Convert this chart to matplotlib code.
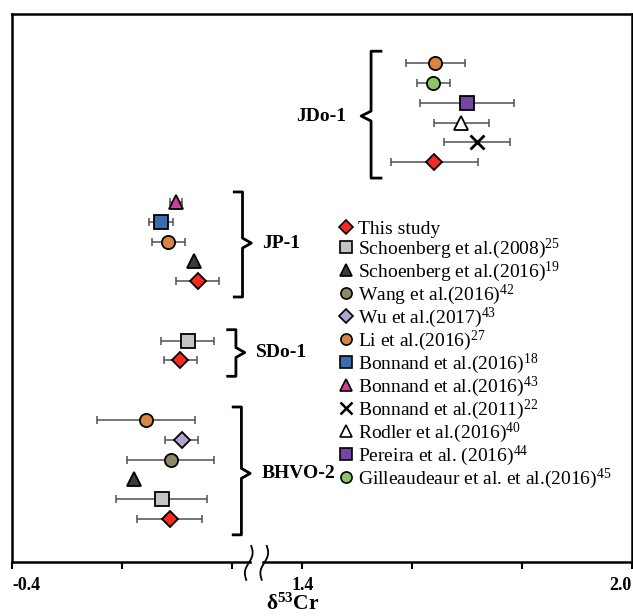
import numpy as np
import matplotlib.pyplot as plt
from matplotlib.lines import Line2D

plt.rcParams["font.family"] = ["Liberation Serif", "DejaVu Serif"]
plt.rcParams["mathtext.fontset"] = "custom"
plt.rcParams["mathtext.rm"] = "Liberation Serif"
plt.rcParams["mathtext.it"] = "Liberation Serif:italic"
plt.rcParams["mathtext.bf"] = "Liberation Serif:bold"

# data sources: legend label, marker, face colour
src_keys = ["this", "scho08", "scho16", "wang16", "wu17", "li16",
            "bonn16a", "bonn16b", "bonn11", "rodl16", "pere16", "gill16"]
src_labels = ["This study", "Schoenberg et al.(2008)$^{25}$",
              "Schoenberg et al.(2016)$^{19}$", "Wang et al.(2016)$^{42}$",
              "Wu et al.(2017)$^{43}$", "Li et al.(2016)$^{27}$",
              "Bonnand et al.(2016)$^{18}$", "Bonnand et al.(2016)$^{43}$",
              "Bonnand et al.(2011)$^{22}$", "Rodler et al.(2016)$^{40}$",
              "Pereira et al. (2016)$^{44}$",
              "Gilleaudeaur et al. et al.(2016)$^{45}$"]
src_markers = ["D", "s", "^", "o", "D", "o", "s", "^", "x", "^", "s", "o"]
src_colors = ["#f52a22", "#c4c4c4", "#3c3c3c", "#8c8a62", "#b3a3d3", "#d9843f",
              "#3b6cae", "#cc3f9c", "black", "white", "#7446a4", "#8cc46a"]

# sample groups
groups = ["JDo-1", "JP-1", "SDo-1", "BHVO-2"]

jdo1_src = ["li16", "gill16", "pere16", "rodl16", "bonn11", "this"]
jdo1_val = [1.642, 1.638, 1.700, 1.689, 1.718, 1.640]
jdo1_err = [0.054, 0.030, 0.085, 0.050, 0.060, 0.079]
jdo1_row = [0, 1, 2, 3, 4, 5]

jp1_src = ["bonn16b", "bonn16a", "li16", "scho16", "this"]
jp1_val = [-0.102, -0.129, -0.115, -0.069, -0.062]
jp1_err = [0.011, 0.022, 0.030, 0.0, 0.040]
jp1_row = [7, 8, 9, 10, 11]

sdo1_src = ["scho08", "this"]
sdo1_val = [-0.080, -0.093]
sdo1_err = [0.048, 0.030]
sdo1_row = [14, 15]

bhvo2_src = ["li16", "wu17", "wang16", "scho16", "scho08", "this"]
bhvo2_val = [-0.156, -0.091, -0.111, -0.178, -0.127, -0.113]
bhvo2_err = [0.090, 0.030, 0.079, 0.0, 0.083, 0.059]
bhvo2_row = [18, 19, 20, 21, 22, 23]

# bracket extents (rows) and x of the bracket spine
br_top = [-0.6, 6.5, 13.45, 17.35]
br_bot = [5.8, 11.8, 15.8, 23.8]
br_mid = [2.67, 9.08, 14.6, 20.7]
br_x = [1.525, 0.020, 0.008, 0.018]

# broken x axis: squeeze the empty range between L and R
L, R, EPS = 0.05, 1.322, 0.001


def fwd(x):
    x = np.asarray(x, float)
    return np.where(x <= L, x, np.where(x >= R, x - (R - L) * (1 - EPS),
                                        L + (x - L) * EPS))


def inv(y):
    y = np.asarray(y, float)
    Lr = L + (R - L) * EPS
    return np.where(y <= L, y, np.where(y >= Lr, y + (R - L) * (1 - EPS),
                                        L + (y - L) / EPS))


fig = plt.figure(figsize=(6.33, 6.16), dpi=100)
ax = fig.add_axes([0.019, 0.088, 0.979, 0.889])
ax.set_xscale("function", functions=(fwd, inv))
ax.set_xlim(-0.4, 2.0)
ax.set_ylim(25.16, -2.47)

style = {k: (m, c) for k, m, c in zip(src_keys, src_markers, src_colors)}


def draw(srcs, vals, errs, rows):
    for s, v, e, r in zip(srcs, vals, errs, rows):
        m, c = style[s]
        if e > 0:
            ax.errorbar(v, r, xerr=e, fmt="none", ecolor="#505050",
                        elinewidth=1.1, capsize=3, capthick=1.1, zorder=2)
        if m == "x":
            ax.plot(v, r, marker="x", color="black", ms=10, mew=2, zorder=3)
        else:
            ms = 8.5 if m == "D" else 9.5
            ax.plot(v, r, marker=m, mfc=c, mec="black", mew=1.3, ms=ms,
                    linestyle="none", zorder=3)


draw(jdo1_src, jdo1_val, jdo1_err, jdo1_row)
draw(jp1_src, jp1_val, jp1_err, jp1_row)
draw(sdo1_src, sdo1_val, sdo1_err, sdo1_row)
draw(bhvo2_src, bhvo2_val, bhvo2_err, bhvo2_row)

# brackets
for i, g in enumerate(groups):
    x, t, b, m = br_x[i], br_top[i], br_bot[i], br_mid[i]
    if i == 0:
        hook, tip = x + 0.018, x - 0.018
    else:
        hook, tip = x - 0.015, x + 0.016
    ax.plot([hook, x, x, tip, x, x, hook], [t, t, m - 0.25, m, m + 0.25, b, b],
            color="black", lw=2, solid_joinstyle="round", zorder=3)
    if i == 0:
        ax.annotate(g, (tip, m), xytext=(-11, 0), textcoords="offset points",
                    ha="right", va="center", fontsize=14, fontweight="bold")
    else:
        ax.annotate(g, (tip, m), xytext=(8, 0), textcoords="offset points",
                    ha="left", va="center", fontsize=14, fontweight="bold")

# axes styling
for sp in ax.spines.values():
    sp.set_linewidth(1.8)
ax.set_yticks([])
ax.set_xticks([-0.4, -0.2, 0.0, 1.4, 1.6, 1.8, 2.0],
              labels=["-0.4", "", "", "1.4", "", "", "2.0"])
ax.minorticks_off()
ax.tick_params(axis="x", direction="out", length=5, width=1.5, pad=6,
               labelsize=13)
for lab in ax.get_xticklabels():
    lab.set_fontweight("bold")
labs = ax.get_xticklabels()
labs[0].set_ha("left")
labs[-1].set_ha("right")
ax.set_xlabel(r"δ$^{\mathbf{53}}$Cr", fontsize=15.5, fontweight="bold")
ax.xaxis.set_label_coords(0.453, -0.058)

# break marks on the bottom axis
t = np.linspace(0, 1, 50)
yy = 0.029 - 0.062 * t
for x0 in (0.382, 0.407):
    xx = x0 + (5 * (0.5 - t) + 2.5 * np.sin(2 * np.pi * t)) / 620
    ax.plot(xx, yy, color="black", lw=1.3, transform=ax.transAxes,
            clip_on=False, zorder=6)
ax.fill_betweenx(np.linspace(-0.01, 0.01, 5), 0.388, 0.401, color="white",
                 transform=ax.transAxes, clip_on=False, zorder=5)

# legend
handles = []
for k, lab, m, c in zip(src_keys, src_labels, src_markers, src_colors):
    if m == "x":
        h = Line2D([], [], marker="x", color="black", ms=8, mew=1.8,
                   linestyle="none")
    else:
        h = Line2D([], [], marker=m, mfc=c, mec="black", mew=1.2,
                   ms=7 if m == "D" else 8, linestyle="none")
    handles.append(h)
ax.legend(handles, src_labels, loc="upper left", bbox_to_anchor=(0.526, 0.623),
          frameon=False, fontsize=14, handlelength=0.8, handletextpad=0.25,
          labelspacing=-0.07, borderpad=0, borderaxespad=0)

fig.savefig("out.png", dpi=100)
